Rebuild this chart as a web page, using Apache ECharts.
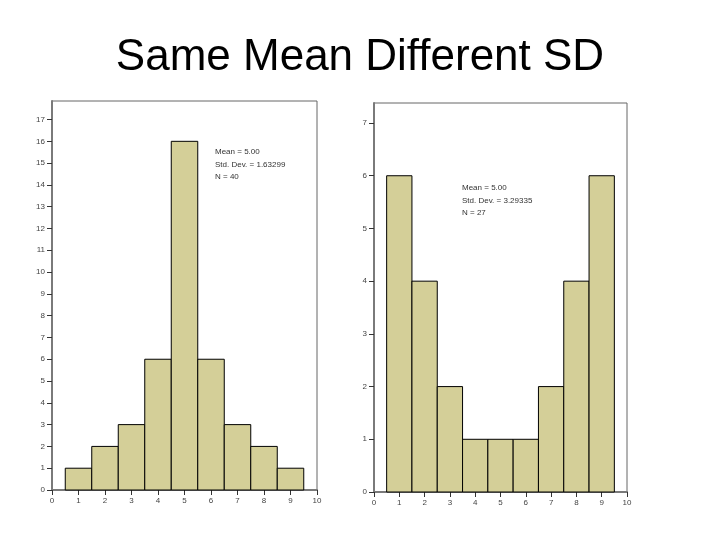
<!DOCTYPE html>
<html>
<head>
<meta charset="utf-8">
<script src="https://cdn.jsdelivr.net/npm/echarts@6/dist/echarts.min.js"></script>
<style>
  html, body { margin: 0; padding: 0; background: #fff; }
  #chart { width: 720px; height: 540px; }
</style>
</head>
<body>
<div id="chart"></div>
<script>
// 两组直方图数据,x为组中心,y为频数
const bins = [1, 2, 3, 4, 5, 6, 7, 8, 9]
const countsLeft = [1, 2, 3, 6, 16, 6, 3, 2, 1]
const countsRight = [6, 4, 2, 1, 1, 1, 2, 4, 6]
const xTicks = [0, 1, 2, 3, 4, 5, 6, 7, 8, 9, 10]
const yTicksLeft = [0, 1, 2, 3, 4, 5, 6, 7, 8, 9, 10, 11, 12, 13, 14, 15, 16, 17]
const yTicksRight = [0, 1, 2, 3, 4, 5, 6, 7]
const statsLeft = ['Mean = 5.00', 'Std. Dev. = 1.63299', 'N = 40']
const statsRight = ['Mean = 5.00', 'Std. Dev. = 3.29335', 'N = 27']

const barColor = '#d4cf98'
const axisGray = '#7a7a7a'
const labelStyle = { fontSize: 8, color: '#444', fontFamily: 'Liberation Sans' }

// 每个柱子画成从 x-0.5 到 x+0.5 的矩形
function renderBin(params, api) {
	const x = api.value(0)
	const y = api.value(1)
	const p0 = api.coord([x - 0.5, 0])
	const p1 = api.coord([x + 0.5, y])
	return {
		type: 'rect',
		shape: { x: p0[0], y: p1[1], width: p1[0] - p0[0], height: p0[1] - p1[1] },
		style: { fill: barColor, stroke: '#000', lineWidth: 1 }
	}
}

function xAxis(gridIndex) {
	return {
		type: 'value', gridIndex, min: 0, max: 10, interval: 1,
		axisLine: { lineStyle: { color: axisGray, width: 2 } },
		axisTick: { length: 5, lineStyle: { color: '#333' }, customValues: xTicks },
		axisLabel: Object.assign({ margin: 7, customValues: xTicks }, labelStyle),
		splitLine: { show: false }
	}
}

function yAxis(gridIndex, max, ticks) {
	return {
		type: 'value', gridIndex, min: 0, max,
		axisLine: { show: true, lineStyle: { color: axisGray, width: 2 } },
		axisTick: { show: true, length: 5, lineStyle: { color: '#333' }, customValues: ticks },
		axisLabel: Object.assign({ margin: 7, customValues: ticks }, labelStyle),
		splitLine: { show: false }
	}
}

function statsText(lines, left, top) {
	return {
		type: 'text', left, top,
		style: { text: lines.join('\n'), fontSize: 8, lineHeight: 12.5, fill: '#333', fontFamily: 'Liberation Sans' }
	}
}

const chart = echarts.init(document.getElementById('chart'))
chart.setOption({
	backgroundColor: '#fff',
	animation: false,
	title: {
		text: 'Same Mean Different SD',
		left: 'center', top: 31,
		textStyle: { fontSize: 44, fontWeight: 'normal', color: '#000', fontFamily: 'Liberation Sans' }
	},
	grid: [
		{ left: 52, right: 403, top: 101, bottom: 50, show: true, borderColor: '#666', borderWidth: 1 },
		{ left: 374, right: 93, top: 103, bottom: 48, show: true, borderColor: '#666', borderWidth: 1 }
	],
	xAxis: [xAxis(0), xAxis(1)],
	yAxis: [yAxis(0, 17.85, yTicksLeft), yAxis(1, 7.38, yTicksRight)],
	series: [
		{
			type: 'custom', xAxisIndex: 0, yAxisIndex: 0, renderItem: renderBin,
			data: bins.map((b, i) => [b, countsLeft[i]])
		},
		{
			type: 'custom', xAxisIndex: 1, yAxisIndex: 1, renderItem: renderBin,
			data: bins.map((b, i) => [b, countsRight[i]])
		}
	],
	graphic: [statsText(statsLeft, 215, 146), statsText(statsRight, 462, 182)]
})
</script>
</body>
</html>
